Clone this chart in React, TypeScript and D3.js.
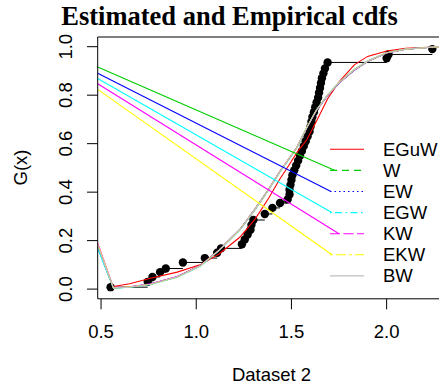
import React from 'react';
import * as d3 from 'd3';

// Empirical data (x, ecdf value)
const dataX = [0.55, 0.745, 0.77, 0.81, 0.84, 0.93, 1.045, 1.11, 1.13, 1.24, 1.255, 1.27, 1.285, 1.29, 1.30, 1.36, 1.40, 1.44, 1.48, 1.49, 1.49, 1.495, 1.50, 1.505, 1.515, 1.525, 1.535, 1.545, 1.555, 1.565, 1.575, 1.585, 1.595, 1.60, 1.605, 1.61, 1.618, 1.625, 1.632, 1.64, 1.645, 1.65, 1.655, 1.66, 1.668, 1.676, 1.69, 2.00, 2.01, 2.24];
const dataY = [0.008, 0.03, 0.05, 0.07, 0.085, 0.11, 0.128, 0.15, 0.168, 0.185, 0.205, 0.225, 0.245, 0.265, 0.285, 0.31, 0.335, 0.355, 0.37, 0.39, 0.41, 0.43, 0.45, 0.47, 0.49, 0.51, 0.53, 0.55, 0.57, 0.59, 0.61, 0.63, 0.65, 0.67, 0.69, 0.71, 0.73, 0.75, 0.77, 0.79, 0.81, 0.83, 0.85, 0.87, 0.89, 0.91, 0.935, 0.952, 0.968, 0.99];

// Fitted cdfs evaluated on a common grid
const fitX = [0.565, 0.65, 0.76, 0.9, 1.02, 1.12, 1.23, 1.31, 1.38, 1.44, 1.49, 1.53, 1.58, 1.63, 1.69, 1.75, 1.83, 1.9, 2.0, 2.1, 2.25, 2.31];
const fitEGuW = [0.011, 0.022, 0.045, 0.07, 0.1, 0.145, 0.215, 0.29, 0.375, 0.455, 0.515, 0.565, 0.615, 0.69, 0.785, 0.855, 0.925, 0.96, 0.982, 0.993, 0.999, 1.0];
const fitW = [0.005, 0.008, 0.02, 0.05, 0.095, 0.16, 0.245, 0.33, 0.41, 0.485, 0.54, 0.585, 0.665, 0.737, 0.8, 0.852, 0.905, 0.94, 0.975, 0.99, 0.999, 1.0];
const fitEW = [0.005, 0.009, 0.021, 0.051, 0.097, 0.162, 0.247, 0.332, 0.412, 0.486, 0.541, 0.586, 0.664, 0.735, 0.798, 0.85, 0.903, 0.939, 0.974, 0.99, 0.999, 1.0];
const fitEGW = [0.004, 0.008, 0.019, 0.049, 0.094, 0.159, 0.244, 0.329, 0.409, 0.484, 0.539, 0.585, 0.666, 0.738, 0.801, 0.853, 0.906, 0.941, 0.975, 0.99, 0.999, 1.0];
const fitKW = [0.006, 0.01, 0.022, 0.052, 0.097, 0.161, 0.246, 0.331, 0.411, 0.487, 0.542, 0.587, 0.665, 0.736, 0.799, 0.851, 0.904, 0.94, 0.974, 0.99, 0.999, 1.0];
const fitEKW = [0.005, 0.009, 0.02, 0.05, 0.096, 0.161, 0.246, 0.331, 0.411, 0.486, 0.541, 0.586, 0.666, 0.737, 0.8, 0.852, 0.905, 0.94, 0.975, 0.99, 0.999, 1.0];
const fitBW = [0.005, 0.008, 0.02, 0.05, 0.095, 0.16, 0.245, 0.33, 0.41, 0.485, 0.54, 0.585, 0.665, 0.737, 0.8, 0.852, 0.905, 0.94, 0.975, 0.99, 0.999, 1.0];

const seriesNames = ['EGuW', 'W', 'EW', 'EGW', 'KW', 'EKW', 'BW'];
const seriesValues = [fitEGuW, fitW, fitEW, fitEGW, fitKW, fitEKW, fitBW];
const seriesColors = ['#FF0000', '#00CD00', '#0000FF', '#00FFFF', '#FF00FF', '#FFFF00', '#BEBEBE'];
const seriesDash = [null, '7,5', '1.5,3', '1.5,3.5,7,3.5', '10,3.5', '3,3,10,3', null];
// left-hand tail of each fitted curve (value at left edge x = 0.4824)
const tailLeftY = [null, 0.175, 0.172, 0.168, 0.19, 0.185, 0.18];
// straight segments from the left edge to the legend keys
const connectorLeftY = [null, 0.916, 0.89, 0.869, 0.847, 0.824, null];

const xTicks = [0.5, 1.0, 1.5, 2.0];
const xTickLabels = ['0.5', '1.0', '1.5', '2.0'];
const yTicks = [0, 0.2, 0.4, 0.6, 0.8, 1.0];
const yTickLabels = ['0.0', '0.2', '0.4', '0.6', '0.8', '1.0'];

export default function App() {
  const W = 439, H = 388;
  const left = 97.7, right = 445.2, top = 37, bottom = 298.8;
  const xMin = 0.4824, xMax = 2.3076;
  const x = d3.scaleLinear().domain([xMin, xMax]).range([left, right]);
  const y = d3.scaleLinear().domain([-0.04, 1.04]).range([bottom, top]);
  const line = d3.line<[number, number]>().x(d => x(d[0])).y(d => y(d[1]));

  const sans = "'Liberation Sans', Arial, sans-serif";
  const fs = 18.5;
  const legX0 = 330, legX1 = 364, legTextX = 383, legY0 = 149.3, legDy = 21.1;
  const connEndX = [0, 335, 331, 331.7, 339, 332, 0];

  const steps = dataX.map((xv, i) => i < dataX.length - 1
    ? { x1: x(xv), x2: x(dataX[i + 1]), yv: y(dataY[i]) } : null).filter(Boolean) as any[];

  return (
    <svg width={W} height={H} style={{ position: 'absolute', left: 0, top: 0, background: '#fff' }}>
      <defs>
        <clipPath id="plotclip">
          <rect x={left} y={top} width={right - left} height={bottom - top} />
        </clipPath>
      </defs>
      <rect x={0} y={0} width={W} height={H} fill="#fff" />
      <text x={229.5} y={25} textAnchor="middle" fontFamily="'Liberation Serif', 'Times New Roman', serif"
        fontWeight="bold" fontSize={26.5} fill="#000">Estimated and Empirical cdfs</text>

      <g clipPath="url(#plotclip)">
        {steps.map((s, i) => (
          <line key={'s' + i} x1={s.x1} x2={s.x2} y1={s.yv} y2={s.yv} stroke="#000" strokeWidth={1} />
        ))}
        {dataX.map((xv, i) => (
          <circle key={'p' + i} cx={x(xv)} cy={y(dataY[i])} r={4.2} fill="#000" />
        ))}
        {seriesValues.map((vals, k) => {
          const pts: [number, number][] = [];
          if (tailLeftY[k] != null) pts.push([xMin, tailLeftY[k] as number]);
          fitX.forEach((xv, i) => pts.push([xv, vals[i]]));
          return <path key={'c' + k} d={line(pts) || ''} fill="none" stroke={seriesColors[k]} strokeWidth={1.1} />;
        })}
        {connectorLeftY.map((v, k) => v == null ? null : (
          <line key={'k' + k} x1={x(xMin)} y1={y(v)} x2={connEndX[k]} y2={legY0 + k * legDy}
            stroke={seriesColors[k]} strokeWidth={1.1} />
        ))}
      </g>

      {/* box */}
      <line x1={left} x2={left} y1={top} y2={bottom} stroke="#000" />
      <line x1={left} x2={W} y1={top} y2={top} stroke="#000" />
      <line x1={left} x2={W} y1={bottom} y2={bottom} stroke="#000" />

      {/* y axis */}
      {yTicks.map((t, i) => (
        <g key={'yt' + i}>
          <line x1={left - 10.7} x2={left} y1={y(t)} y2={y(t)} stroke="#000" />
          <text transform={`translate(71.7,${y(t)}) rotate(-90)`} textAnchor="middle"
            fontFamily={sans} fontSize={fs} fill="#000">{yTickLabels[i]}</text>
        </g>
      ))}
      {/* x axis */}
      {xTicks.map((t, i) => (
        <g key={'xt' + i}>
          <line x1={x(t)} x2={x(t)} y1={bottom} y2={bottom + 10.5} stroke="#000" />
          <text x={x(t)} y={338.3} textAnchor="middle" fontFamily={sans} fontSize={fs} fill="#000">{xTickLabels[i]}</text>
        </g>
      ))}
      <text x={271.5} y={380.7} textAnchor="middle" fontFamily={sans} fontSize={fs} fill="#000">Dataset 2</text>
      <text transform={`translate(27,167.5) rotate(-90)`} textAnchor="middle" fontFamily={sans} fontSize={fs} fill="#000">G(x)</text>

      {/* legend */}
      {seriesNames.map((n, k) => (
        <g key={'l' + k}>
          <line x1={legX0} x2={legX1} y1={legY0 + k * legDy} y2={legY0 + k * legDy}
            stroke={seriesColors[k]} strokeWidth={1.1} strokeDasharray={seriesDash[k] || undefined} />
          <text x={legTextX} y={legY0 + k * legDy} dy="0.35em" fontFamily={sans} fontSize={fs} fill="#000">{n}</text>
        </g>
      ))}
    </svg>
  );
}
